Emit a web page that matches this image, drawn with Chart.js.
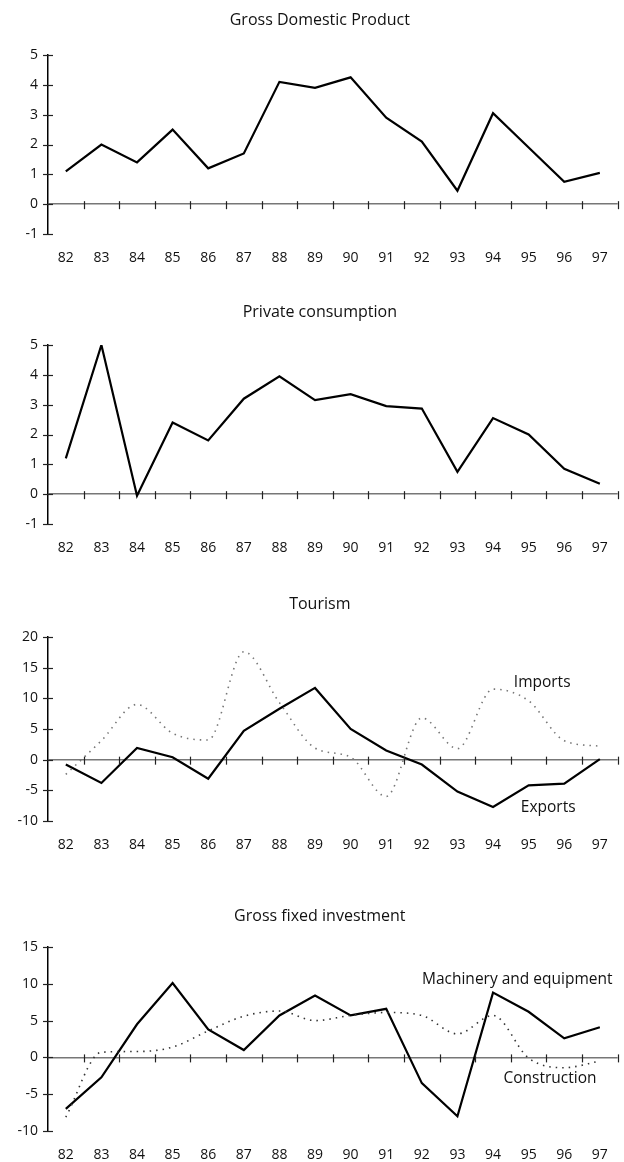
<!DOCTYPE html>
<html>
<head>
<meta charset="utf-8">
<script src="https://cdn.jsdelivr.net/npm/chart.js@4"></script>
<style>
  body { margin: 0; background: #fff; overflow: hidden; }
  .panel { position: absolute; left: 0; width: 624px; }
</style>
</head>
<body>
<div class="panel" style="top:10px;height:259px"><canvas id="gdp"></canvas></div>
<div class="panel" style="top:300px;height:259px"><canvas id="cons"></canvas></div>
<div class="panel" style="top:592px;height:264px"><canvas id="tour"></canvas></div>
<div class="panel" style="top:902px;height:260px"><canvas id="inv"></canvas></div>
<script>
// years on the x axis
const years = ['82', '83', '84', '85', '86', '87', '88', '89', '90', '91', '92', '93', '94', '95', '96', '97'];

// % change
const gdp = [1.1, 2.0, 1.4, 2.5, 1.2, 1.7, 4.1, 3.9, 4.25, 2.9, 2.1, 0.45, 3.05, 1.9, 0.75, 1.05];
const privateConsumption = [1.2, 5.0, -0.05, 2.4, 1.8, 3.2, 3.95, 3.15, 3.35, 2.95, 2.87, 0.75, 2.55, 2.0, 0.85, 0.35];
const tourismExports = [-0.8, -3.8, 1.9, 0.4, -3.1, 4.7, 8.3, 11.7, 5.0, 1.5, -0.8, -5.2, -7.7, -4.2, -3.9, 0.1];
const tourismImports = [-2.4, 3.1, 9.0, 4.3, 3.2, 17.6, 9.3, 1.9, 0.4, -6.0, 6.8, 1.8, 11.5, 9.6, 3.1, 2.2];
const machinery = [-7.0, -2.7, 4.5, 10.1, 3.8, 1.0, 5.7, 8.4, 5.7, 6.6, -3.5, -8.0, 8.8, 6.2, 2.6, 4.1];
const construction = [-8.1, 0.7, 0.8, 1.4, 3.6, 5.6, 6.3, 5.0, 5.7, 6.1, 5.7, 3.2, 5.7, -0.1, -1.4, -0.5];

const FONT = "'Open Sans', sans-serif";

// titles, cross ticks on the y axis and zero line, series names
const axisMarks = {
    id: 'axisMarks',
    afterDraw(chart, args, opts) {
        const ctx = chart.ctx;
        const xs = chart.scales.x, ys = chart.scales.y;
        ctx.save();
        ctx.strokeStyle = '#222';
        ctx.lineWidth = 1.2;
        ys.ticks.forEach(t => {
            const py = Math.round(ys.getPixelForValue(t.value)) + 0.5;
            ctx.beginPath();
            ctx.moveTo(xs.left - 5, py);
            ctx.lineTo(xs.left + 5, py);
            ctx.stroke();
        });
        const y0 = ys.getPixelForValue(0);
        const half = (xs.getPixelForValue(1) - xs.getPixelForValue(0)) / 2;
        for (let i = 0; i < years.length; i++) {
            const px = Math.round(xs.getPixelForValue(i) + half) + 0.5;
            ctx.beginPath();
            ctx.moveTo(px, y0 - 3);
            ctx.lineTo(px, y0 + 5);
            ctx.stroke();
        }
        ctx.fillStyle = '#111';
        ctx.textAlign = 'center';
        ctx.textBaseline = 'middle';
        ctx.font = '16px ' + FONT;
        ctx.fillText(opts.title, (xs.left + xs.right) / 2 - 13, ys.top - opts.titleGap);
        ctx.font = '15.5px ' + FONT;
        (opts.labels || []).forEach(l => {
            ctx.fillText(l.text, xs.getPixelForValue(l.at), ys.getPixelForValue(l.value));
        });
        ctx.restore();
    }
};

function makeChart(id, title, titleGap, labelBand, datasets, yMin, yMax, yStep, labels) {
    return new Chart(document.getElementById(id), {
        type: 'line',
        data: { labels: years, datasets: datasets },
        plugins: [axisMarks],
        options: {
            responsive: true,
            maintainAspectRatio: false,
            animation: false,
            layout: { padding: { left: 0, right: 5, top: 45, bottom: 0 } },
            elements: { point: { radius: 0 } },
            scales: {
                x: {
                    offset: true,
                    grid: { display: false, drawTicks: false },
                    border: { display: false },
                    ticks: { color: '#111', padding: 16, maxRotation: 0, font: { family: FONT, size: 14 } },
                    afterFit(scale) { scale.height = labelBand; }
                },
                y: {
                    min: yMin,
                    max: yMax,
                    grid: {
                        color: c => c.tick.value === 0 ? '#777' : 'rgba(0,0,0,0)',
                        lineWidth: 1.5,
                        drawTicks: false
                    },
                    border: { display: true, color: '#000', width: 1.5 },
                    ticks: { stepSize: yStep, color: '#111', padding: 10, font: { family: FONT, size: 14 } },
                    afterFit(scale) { scale.width = 48; }
                }
            },
            plugins: {
                legend: { display: false },
                tooltip: { enabled: false },
                axisMarks: { title: title, titleGap: titleGap, labels: labels }
            }
        }
    });
}

function solid(data) {
    return { data: data, borderColor: '#000', borderWidth: 2.2, tension: 0, fill: false };
}
function dotted(data, color) {
    return { data: data, borderColor: color, borderWidth: 1.6, borderDash: [1.5, 5], cubicInterpolationMode: 'monotone', fill: false };
}

makeChart('gdp', 'Gross Domestic Product', 35, 35, [solid(gdp)], -1, 5, 1, []);
makeChart('cons', 'Private consumption', 33, 35, [solid(privateConsumption)], -1, 5, 1, []);
makeChart('tour', 'Tourism', 33, 35, [dotted(tourismImports, '#777'), solid(tourismExports)], -10, 20, 5, [
    { text: 'Imports', at: 13.38, value: 12.6 },
    { text: 'Exports', at: 13.55, value: -7.8 }
]);
makeChart('inv', 'Gross fixed investment', 31, 31, [dotted(construction, '#333'), solid(machinery)], -10, 15, 5, [
    { text: 'Machinery and equipment', at: 12.68, value: 10.6 },
    { text: 'Construction', at: 13.6, value: -2.9 }
]);
</script>
</body>
</html>
